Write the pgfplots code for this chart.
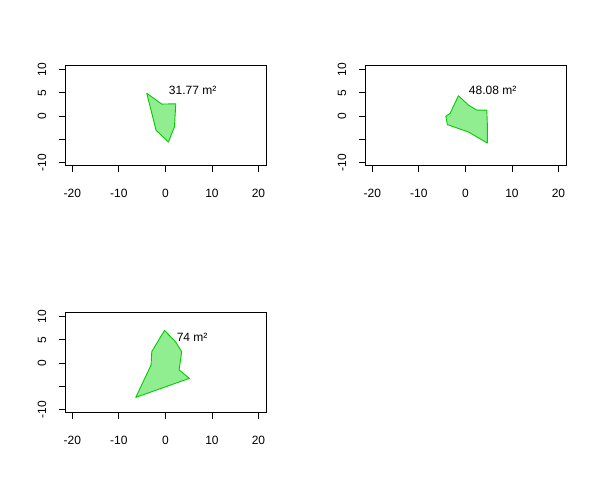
\documentclass[border=0pt]{standalone}
\usepackage{fontspec}
\setmainfont{Liberation Sans}
\usepackage{pgfplots}
\pgfplotsset{compat=1.18}
\definecolor{fillg}{RGB}{144,238,144}
\definecolor{lineg}{RGB}{0,205,0}
\pgfplotsset{
  rpanel/.style={
    scale only axis, width=200.5pt, height=99.5pt,
    anchor=south west,
    xmin=-21.42, xmax=21.66, ymin=-10.54, ymax=10.86,
    axis line style={line width=0.8pt},
    every tick/.style={black, line width=0.8pt},
    tick align=outside, major tick length=7pt,
    xtick={-20,-10,0,10,20}, xticklabels={-20,-10,0,10,20},
    ytick={-10,-5,0,5,10}, yticklabels={-10,,0,5,10},
    xtick pos=bottom, ytick pos=left,
    tick label style={font=\fontsize{12}{14}\selectfont},
    xticklabel style={anchor=north, yshift=-14pt},
    yticklabel style={rotate=90, anchor=south, yshift=9pt},
    clip=false,
  },
  poly/.style={draw=lineg, fill=fillg, line width=0.9pt, line join=round},
  lbl/.style={only marks, mark=none, nodes near coords, point meta=explicit symbolic,
    nodes near coords style={anchor=center, font=\fontsize{12}{14}\selectfont, inner sep=0pt}},
}
\begin{document}
\begin{tikzpicture}[x=1pt,y=1pt]
\path (0,0) rectangle (600,494);
% panel 1
\begin{axis}[rpanel, at={(65.7pt,329pt)}]
\addplot[poly] coordinates {(-4.0,4.88) (-0.77,2.56) (2.24,2.62) (1.94,-2.36) (0.65,-5.6) (-2.0,-3.08)} -- cycle;
\addplot[lbl] coordinates {(5.85,5.6) [31.77 m²]};
\end{axis}
% panel 2
\begin{axis}[rpanel, at={(365.7pt,329pt)}]
\addplot[poly] coordinates {(-1.5,4.36) (0.65,2.34) (2.45,1.26) (4.6,1.26) (4.73,-2.1) (4.73,-5.83) (0.65,-3.44) (-3.87,-1.85) (-4.2,-0.04) (-3.3,0.54)} -- cycle;
\addplot[lbl] coordinates {(5.85,5.6) [48.08 m²]};
\end{axis}
% panel 3
\begin{axis}[rpanel, at={(65.7pt,82pt)}]
\addplot[poly] coordinates {(-0.2,6.98) (2.15,4.6) (3.5,2.44) (2.95,-1.5) (5.16,-3.3) (-6.37,-7.4) (-3.07,-0.43) (-2.93,2.44) (-1.85,4.25)} -- cycle;
\addplot[lbl] coordinates {(5.74,5.6) [74 m²]};
\end{axis}
\end{tikzpicture}
\end{document}
